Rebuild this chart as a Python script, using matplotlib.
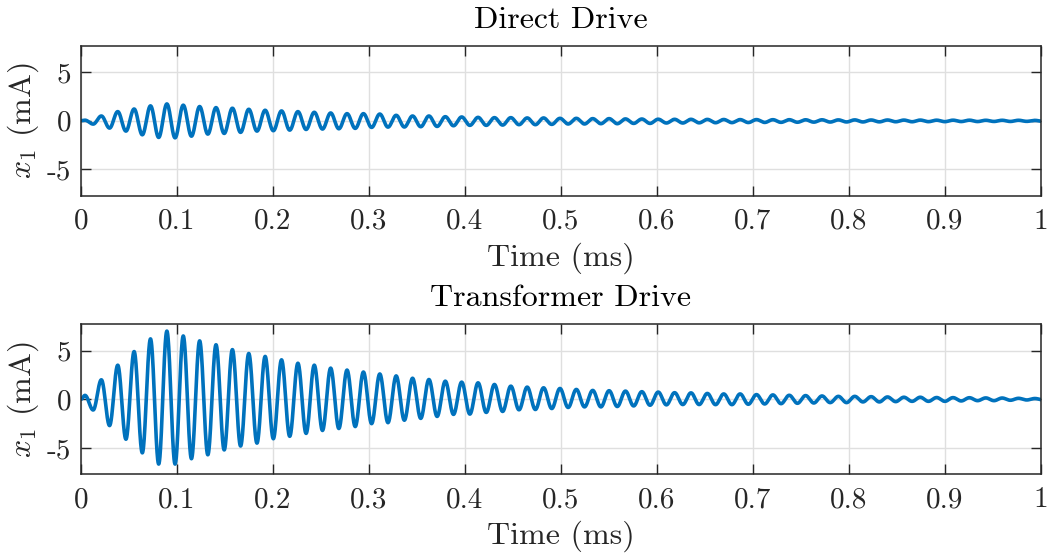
import numpy as np
import matplotlib
matplotlib.use("Agg")
import matplotlib.pyplot as plt

plt.rcParams["font.family"] = "serif"
plt.rcParams["font.serif"] = ["cmr10"]
plt.rcParams["mathtext.fontset"] = "cm"
plt.rcParams["axes.unicode_minus"] = False

# Ringing of the coil current x1 after the drive pulse.
# Extremum timing (ms): first extremum and spacing between successive extrema.
first_extremum_ms = 0.0042
half_period_ms = 0.00853

# Positive peaks (mA), one per cycle
direct_peaks = [0.05, 0.48, 0.93, 1.2, 1.52, 1.72, 1.59, 1.45, 1.34, 1.28,
                1.17, 1.07, 1.0, 0.93, 0.86, 0.79, 0.72, 0.72, 0.68, 0.55,
                0.48, 0.48, 0.41, 0.38, 0.34, 0.31, 0.31, 0.28, 0.28, 0.24,
                0.24, 0.21, 0.21, 0.18, 0.17, 0.15, 0.14, 0.14, 0.13, 0.12,
                0.11, 0.11, 0.10, 0.10, 0.09, 0.09, 0.08, 0.08, 0.07, 0.07,
                0.06, 0.06, 0.05, 0.05, 0.05, 0.04, 0.04, 0.04, 0.03]
# Negative troughs (mA), one per cycle
direct_troughs = [-0.35, -0.76, -1.07, -1.45, -1.72, -1.76, -1.59, -1.38, -1.31, -1.2,
                  -1.07, -1.03, -0.97, -0.9, -0.86, -0.83, -0.79, -0.69, -0.66, -0.65,
                  -0.62, -0.59, -0.52, -0.48, -0.48, -0.45, -0.41, -0.41, -0.38, -0.34,
                  -0.34, -0.31, -0.31, -0.28, -0.28, -0.24, -0.24, -0.22, -0.21, -0.2,
                  -0.19, -0.18, -0.17, -0.16, -0.15, -0.14, -0.13, -0.13, -0.12, -0.11,
                  -0.11, -0.10, -0.10, -0.09, -0.09, -0.08, -0.08, -0.07, -0.07]

transformer_peaks = [0.4, 2.0, 3.5, 4.9, 6.2, 7.0, 6.5, 6.0, 5.6, 5.1,
                     4.7, 4.4, 4.05, 3.7, 3.5, 3.2, 3.0, 2.8, 2.6, 2.4,
                     2.16, 2.03, 1.86, 1.76, 1.69, 1.52, 1.35, 1.25, 1.18, 1.11,
                     1.01, 0.91, 0.88, 0.84, 0.78, 0.74, 0.68, 0.66, 0.6, 0.55,
                     0.55, 0.48, 0.45, 0.41, 0.38, 0.34, 0.3, 0.3, 0.27, 0.24,
                     0.21, 0.21, 0.18, 0.17, 0.16, 0.14, 0.13, 0.1, 0.08]
transformer_troughs = [-1.1, -2.7, -4.1, -5.5, -6.65, -6.65, -6.1, -5.7, -5.2, -4.8,
                       -4.5, -4.05, -3.8, -3.5, -3.2, -3.0, -2.8, -2.5, -2.4, -2.15,
                       -1.96, -1.76, -1.55, -1.52, -1.35, -1.25, -1.08, -1.05, -0.95, -0.84,
                       -0.78, -0.78, -0.74, -0.68, -0.61, -0.57, -0.54, -0.54, -0.55, -0.55,
                       -0.51, -0.48, -0.45, -0.41, -0.38, -0.34, -0.34, -0.27, -0.27, -0.24,
                       -0.21, -0.21, -0.21, -0.17, -0.14, -0.14, -0.10, -0.07, -0.06]

titles = ["Direct Drive", "Transformer Drive"]
x_ticks = [0, 0.1, 0.2, 0.3, 0.4, 0.5, 0.6, 0.7, 0.8, 0.9, 1]
x_tick_labels = ["0", "0.1", "0.2", "0.3", "0.4", "0.5", "0.6", "0.7", "0.8", "0.9", "1"]
y_ticks = [-5, 0, 5]
y_tick_labels = ["-5", "0", "5"]


def ringing_trace(peaks, troughs, pts=40):
    """Smooth trace through alternating extrema, half-cosine between them."""
    vals = []
    for p, q in zip(peaks, troughs):
        vals += [p, q]
    vals = np.array(vals)
    times = first_extremum_ms + half_period_ms * np.arange(len(vals))
    knots_t = np.concatenate([[0.0], times])
    knots_v = np.concatenate([[0.0], vals])
    ts, vs = [], []
    s = np.linspace(0, 1, pts, endpoint=False)
    w = (1 - np.cos(np.pi * s)) / 2
    for i in range(len(knots_t) - 1):
        ts.append(knots_t[i] + (knots_t[i + 1] - knots_t[i]) * s)
        vs.append(knots_v[i] + (knots_v[i + 1] - knots_v[i]) * w)
    t = np.concatenate(ts)
    v = np.concatenate(vs)
    keep = t <= 1.0
    return t[keep], v[keep]


fig = plt.figure(figsize=(10.5, 5.57), dpi=100)
ax_pos = [[0.0771, 0.6487, 0.9143, 0.2693],
          [0.0771, 0.1485, 0.9143, 0.2693]]
series = [(direct_peaks, direct_troughs), (transformer_peaks, transformer_troughs)]

ink = "#262626"
for pos, (pk, tr), title in zip(ax_pos, series, titles):
    ax = fig.add_axes(pos)
    t, v = ringing_trace(pk, tr)
    ax.plot(t, v, color="#0072BD", lw=2.6, solid_joinstyle="round")
    ax.set_xlim(0, 1)
    ax.set_ylim(-7.7, 7.7)
    ax.set_xticks(x_ticks)
    ax.set_xticklabels(x_tick_labels)
    ax.set_yticks(y_ticks)
    ax.set_yticklabels(y_tick_labels)
    ax.grid(True, color="#dfdfdf", lw=1.0)
    ax.set_axisbelow(True)
    for sp in ax.spines.values():
        sp.set_color(ink)
        sp.set_linewidth(1.1)
    ax.tick_params(direction="in", length=7, width=1.0, color=ink,
                   top=True, right=True, labelsize=21, labelcolor=ink)
    ax.tick_params(axis="x", pad=9)
    ax.tick_params(axis="y", pad=7)
    ax.set_xlabel("Time (ms)", fontsize=23, color=ink)
    ax.set_ylabel(r"$x_1$ (mA)", fontsize=23, color=ink)
    ax.xaxis.set_label_coords(0.5, -0.31)
    ax.yaxis.set_label_coords(-0.042, 0.5)
    ax.set_title(title, fontsize=23, color="black", pad=13)

fig.savefig("out.png", dpi=100)
